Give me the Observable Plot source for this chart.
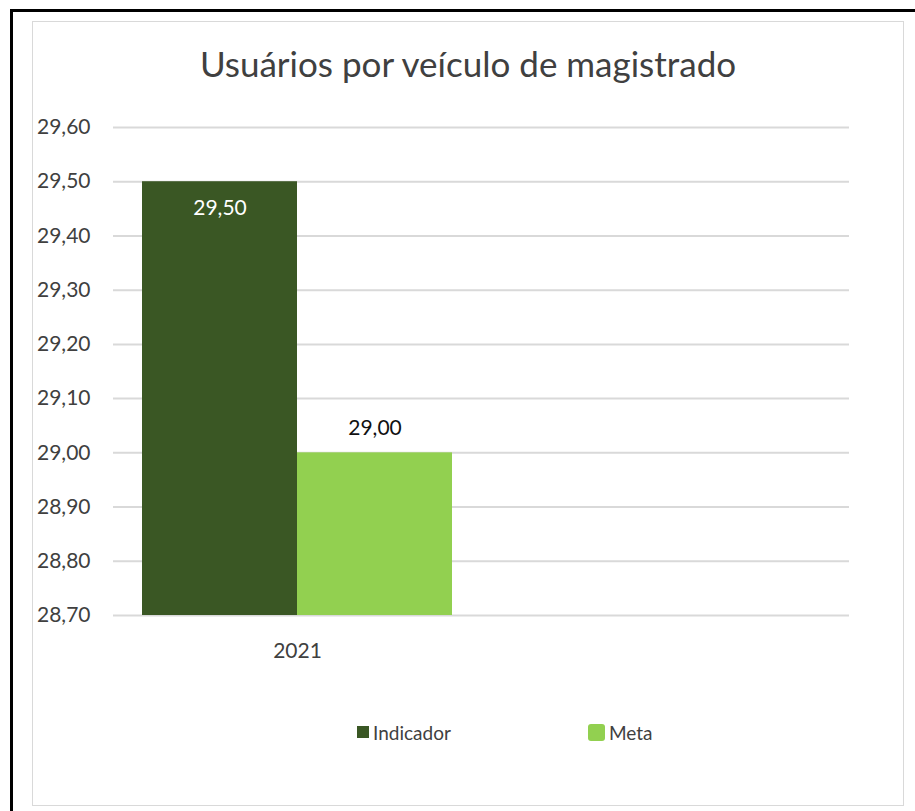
<!DOCTYPE html>
<html>
<head>
<meta charset="utf-8">
<script src="https://cdn.jsdelivr.net/npm/d3@7"></script>
<script src="https://cdn.jsdelivr.net/npm/@observablehq/plot@0.6"></script>
<style>
  body { margin: 0; background: #fff; font-family: Lato, "Noto Sans", sans-serif; }
  #wrap { position: relative; width: 915px; height: 811px; overflow: hidden; background: #fff; }
  #frame { position: absolute; left: 10px; top: 9px; width: 940px; height: 840px;
           border-left: 3px solid #000; border-top: 3px solid #000; }
  #inner { position: absolute; left: 32px; top: 21px; width: 870px; height: 783px;
           border: 1px solid #d9d9d9; }
  #title { position: absolute; left: 0; width: 936px; top: 46px; text-align: center;
           font-size: 35px; line-height: 1; color: #404040; white-space: nowrap; }
  #chart { position: absolute; left: 0; top: 0; }
  .lg-item { position: absolute; display: flex; align-items: center; }
  .lg-sw { display: inline-block; }
  .lg-tx { font-size: 19px; color: #404040; line-height: 1; margin-left: 4px; }
</style>
</head>
<body>
<div id="wrap">
  <div id="frame"></div>
  <div id="inner"></div>
  <div id="title"></div>
  <div id="chart"></div>
  <div id="legend"></div>
</div>
<script>
// ---- data ----
const titleText = "Usuários por veículo de magistrado";
const years = ["2021", ""];            // second category is empty in the source chart
const series = ["Indicador", "Meta"];
const values2021 = [29.50, 29.00];
const yTicks = [28.7, 28.8, 28.9, 29.0, 29.1, 29.2, 29.3, 29.4, 29.5, 29.6];
const colors = ["#3a5724", "#92d050"];

// ---- build ----
const data = series.map((s, i) => ({ year: years[0], series: s, value: values2021[i] }));
const gridData = years.flatMap(yr => yTicks.map(t => ({ year: yr, tick: t })));
const fmt = v => d3.format(".2f")(v).replace(".", ",");

document.getElementById("title").textContent = titleText;

const chart = Plot.plot({
  width: 915,
  height: 680,
  marginLeft: 113,
  marginRight: 66,
  marginTop: 127,
  marginBottom: 65,
  style: { fontFamily: "Lato, 'Noto Sans', sans-serif", fontSize: "21px", color: "#404040", background: "transparent", overflow: "visible" },
  fx: { domain: years, padding: 0, label: null, tickSize: 0, tickPadding: 28, axis: "bottom" },
  x: { domain: series, paddingInner: 0, paddingOuter: 0.187, axis: null },
  y: { domain: [yTicks[0], yTicks[yTicks.length - 1]], ticks: yTicks, tickFormat: fmt, tickSize: 0, tickPadding: 23, label: null },
  color: { domain: series, range: colors },
  marks: [
    Plot.ruleY(gridData, { fx: "year", y: "tick", stroke: "#d9d9d9", strokeWidth: 2 }),
    Plot.barY(data, { fx: "year", x: "series", y1: () => yTicks[0], y2: "value", fill: "series" }),
    Plot.text(data.filter(d => d.series === series[0]), {
      fx: "year", x: "series", y: "value", text: d => fmt(d.value),
      dy: 27, fill: "#ffffff", fontSize: 21
    }),
    Plot.text(data.filter(d => d.series === series[1]), {
      fx: "year", x: "series", y: "value", text: d => fmt(d.value),
      dy: -25, fill: "#111111", fontSize: 21
    })
  ]
});
document.getElementById("chart").appendChild(chart);

// ---- legend ----
const legend = document.getElementById("legend");
const legendPos = [
  { left: 357, top: 723, sw: 12, radius: 0 },
  { left: 588, top: 723, sw: 17, radius: 3 }
];
series.forEach((s, i) => {
  const item = document.createElement("div");
  item.className = "lg-item";
  item.style.left = legendPos[i].left + "px";
  item.style.top = legendPos[i].top + "px";
  item.style.height = "18px";
  const sw = document.createElement("span");
  sw.className = "lg-sw";
  sw.style.width = legendPos[i].sw + "px";
  sw.style.height = legendPos[i].sw + "px";
  sw.style.background = colors[i];
  sw.style.borderRadius = legendPos[i].radius + "px";
  const tx = document.createElement("span");
  tx.className = "lg-tx";
  tx.textContent = s;
  item.appendChild(sw);
  item.appendChild(tx);
  legend.appendChild(item);
});
</script>
</body>
</html>
